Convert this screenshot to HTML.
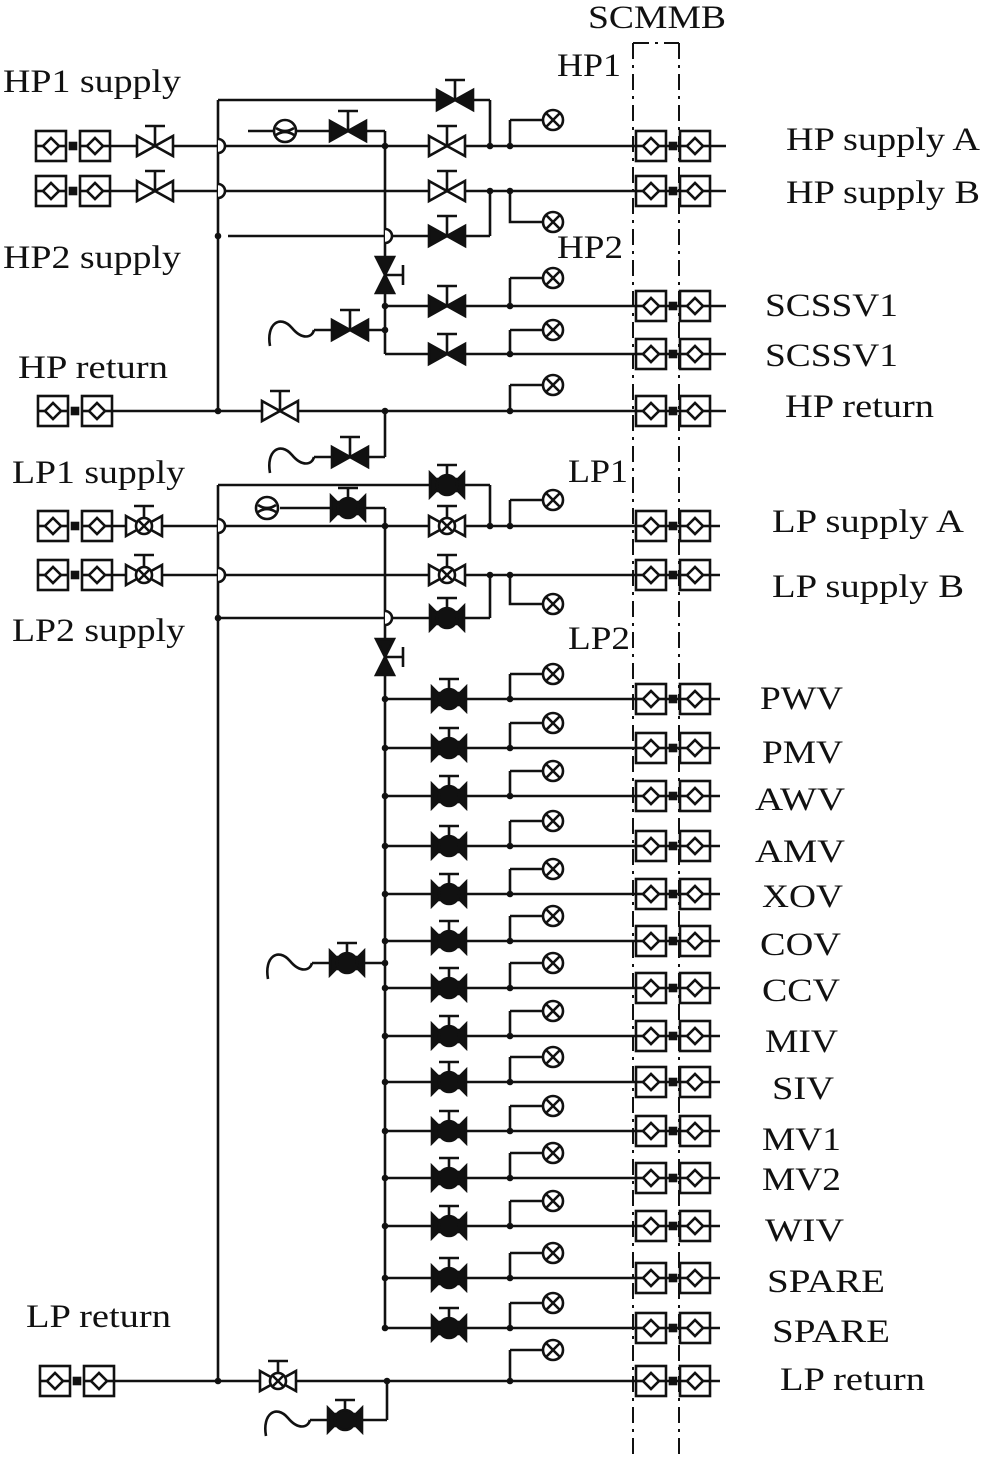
<!DOCTYPE html>
<html><head><meta charset="utf-8"><style>
html,body{margin:0;padding:0;background:#fff;width:986px;height:1460px;overflow:hidden}
svg{display:block}
text{font-family:"Liberation Serif",serif;font-size:33px;fill:#111}
</style></head><body>
<svg id="s" width="986" height="1460" viewBox="0 0 986 1460" xmlns="http://www.w3.org/2000/svg">
<g id="g" stroke="#111" stroke-width="2.6" fill="none"></g>
<g>
<text x="588" y="28" textLength="138" lengthAdjust="spacingAndGlyphs">SCMMB</text>
<text x="557" y="76" textLength="64" lengthAdjust="spacingAndGlyphs">HP1</text>
<text x="557" y="258" textLength="66" lengthAdjust="spacingAndGlyphs">HP2</text>
<text x="568" y="482" textLength="60" lengthAdjust="spacingAndGlyphs">LP1</text>
<text x="568" y="649" textLength="62" lengthAdjust="spacingAndGlyphs">LP2</text>
<text x="3" y="92" textLength="178" lengthAdjust="spacingAndGlyphs">HP1 supply</text>
<text x="3" y="268" textLength="178" lengthAdjust="spacingAndGlyphs">HP2 supply</text>
<text x="18" y="378" textLength="150" lengthAdjust="spacingAndGlyphs">HP return</text>
<text x="12" y="483" textLength="173" lengthAdjust="spacingAndGlyphs">LP1 supply</text>
<text x="12" y="641" textLength="173" lengthAdjust="spacingAndGlyphs">LP2 supply</text>
<text x="26" y="1327" textLength="145" lengthAdjust="spacingAndGlyphs">LP return</text>
<text x="786" y="150" textLength="194" lengthAdjust="spacingAndGlyphs">HP supply A</text>
<text x="786" y="203" textLength="194" lengthAdjust="spacingAndGlyphs">HP supply B</text>
<text x="765" y="316" textLength="133" lengthAdjust="spacingAndGlyphs">SCSSV1</text>
<text x="765" y="366" textLength="133" lengthAdjust="spacingAndGlyphs">SCSSV1</text>
<text x="785" y="417" textLength="149" lengthAdjust="spacingAndGlyphs">HP return</text>
<text x="772" y="532" textLength="192" lengthAdjust="spacingAndGlyphs">LP supply A</text>
<text x="772" y="597" textLength="192" lengthAdjust="spacingAndGlyphs">LP supply B</text>
<text x="760" y="709" textLength="83" lengthAdjust="spacingAndGlyphs">PWV</text>
<text x="762" y="763" textLength="81" lengthAdjust="spacingAndGlyphs">PMV</text>
<text x="755" y="810" textLength="90" lengthAdjust="spacingAndGlyphs">AWV</text>
<text x="755" y="862" textLength="90" lengthAdjust="spacingAndGlyphs">AMV</text>
<text x="762" y="907" textLength="81" lengthAdjust="spacingAndGlyphs">XOV</text>
<text x="760" y="955" textLength="81" lengthAdjust="spacingAndGlyphs">COV</text>
<text x="762" y="1001" textLength="78" lengthAdjust="spacingAndGlyphs">CCV</text>
<text x="765" y="1052" textLength="73" lengthAdjust="spacingAndGlyphs">MIV</text>
<text x="772" y="1099" textLength="62" lengthAdjust="spacingAndGlyphs">SIV</text>
<text x="762" y="1150" textLength="79" lengthAdjust="spacingAndGlyphs">MV1</text>
<text x="762" y="1190" textLength="79" lengthAdjust="spacingAndGlyphs">MV2</text>
<text x="765" y="1241" textLength="79" lengthAdjust="spacingAndGlyphs">WIV</text>
<text x="767" y="1292" textLength="118" lengthAdjust="spacingAndGlyphs">SPARE</text>
<text x="772" y="1342" textLength="118" lengthAdjust="spacingAndGlyphs">SPARE</text>
<text x="780" y="1390" textLength="145" lengthAdjust="spacingAndGlyphs">LP return</text>
</g>
</svg>
<script>
var G=document.getElementById('g'),o='';
function L(a,b,c,d){o+='<line x1="'+a+'" y1="'+b+'" x2="'+c+'" y2="'+d+'"/>';}
function P(d,f){o+='<path d="'+d+'"'+(f?' fill="'+f+'"':'')+'/>';}
function C(x,y,r,f){o+='<circle cx="'+x+'" cy="'+y+'" r="'+r+'"'+(f?' fill="'+f+'"':'')+'/>';}
function dot(x,y){C(x,y,2,'#111');}
function stem(x,y){L(x,y,x,y-20);L(x-10,y-20,x+10,y-20);}
function vOpen(x,y){P('M'+(x-18)+','+(y-10)+'L'+(x+18)+','+(y+10)+'L'+(x+18)+','+(y-10)+'L'+(x-18)+','+(y+10)+'Z','#fff');stem(x,y);}
function vFill(x,y){P('M'+(x-18)+','+(y-10)+'L'+(x+18)+','+(y+10)+'L'+(x+18)+','+(y-10)+'L'+(x-18)+','+(y+10)+'Z','#111');stem(x,y);}
function vX(x,y){vOpen(x,y);C(x,y,8,'#fff');L(x-6,y-6,x+6,y+6);L(x-6,y+6,x+6,y-6);}
function vLP(x,y){stem(x,y);P('M'+(x-17)+','+(y-12)+'L'+(x-11)+','+(y-6)+'L'+(x+11)+','+(y-6)+'L'+(x+17)+','+(y-12)+'L'+(x+17)+','+(y+12)+'L'+(x+11)+','+(y+6)+'L'+(x-11)+','+(y+6)+'L'+(x-17)+','+(y+12)+'Z','#111');C(x,y,10,'#111');}
function vVert(x,y){P('M'+(x-9)+','+(y-18)+'L'+(x+9)+','+(y+18)+'L'+(x-9)+','+(y+18)+'L'+(x+9)+','+(y-18)+'Z','#111');L(x,y,x+18,y);L(x+18,y-10,x+18,y+10);}
function gx(x,y){C(x,y,10,'#fff');L(x-7,y-7,x+7,y+7);L(x-7,y+7,x+7,y-7);}
function gauge(x,y){C(x,y,11,'#fff');P('M'+(x-9)+','+(y-3)+'Q'+x+','+(y+3)+' '+(x+9)+','+(y-3));P('M'+(x-9)+','+(y+4)+'Q'+x+','+(y-2)+' '+(x+9)+','+(y+4));}
function box(x,y){o+='<rect x="'+(x-15)+'" y="'+(y-15)+'" width="30" height="30" fill="#fff"/>';P('M'+(x-8)+','+y+'L'+x+','+(y-8)+'L'+(x+8)+','+y+'L'+x+','+(y+8)+'Z','#fff');L(x-15,y,x-8,y);L(x+8,y,x+15,y);}
function coup(x,y){box(x,y);box(x+44,y);o+='<rect x="'+(x+19)+'" y="'+(y-3)+'" width="6" height="6" fill="#111"/>';}
function hop(x,y){P('M'+x+','+(y-7)+'A7,7 0 0 1 '+x+','+(y+7),'#fff');}
function wave(x,y){P('M'+(x-62)+','+(y+16)+'C'+(x-66)+','+(y-6)+' '+(x-52)+','+(y-16)+' '+(x-40)+','+(y-2)+'C'+(x-30)+','+(y+10)+' '+(x-20)+','+(y+8)+' '+(x-18)+','+y);L(x-18,y,x,y);}
function branchUp(y,gy){L(510,y,510,gy);L(510,gy,543,gy);gx(553,gy);dot(510,y);}
function branchDn(y,gy){P('M510,'+y+'L510,'+gy+'L543,'+gy);gx(553,gy);dot(510,y);}
o+='<g stroke-dasharray="16 6 3 6" stroke-width="2">';L(633,43,633,1455);L(679,43,679,1455);L(633,43,679,43);o+='</g>';
// HP
L(218,100,218,411);L(218,100,490,100);L(490,100,490,146);
L(110,146,726,146);L(110,191,726,191);
L(228,236,490,236);L(490,191,490,236);dot(218,236);
L(248,131,385,131);L(385,131,385,354);L(385,354,726,354);L(385,306,726,306);
L(112,411,726,411);L(385,411,385,457);L(385,457,360,457);L(385,330,360,330);
dot(490,146);dot(490,191);dot(385,146);dot(385,306);dot(385,330);dot(218,411);dot(385,411);
hop(218,146);hop(218,191);hop(385,236);
gauge(285,131);vFill(348,131);vFill(455,100);
vOpen(155,146);vOpen(155,191);vOpen(447,146);vOpen(447,191);vFill(447,236);
vVert(385,275);vFill(447,306);vFill(447,354);vFill(350,330);wave(332,330);
vOpen(280,411);vFill(350,457);wave(332,457);
branchUp(146,120);branchDn(191,222);
branchUp(306,278);branchUp(354,330);branchUp(411,385);
coup(51,146);coup(51,191);coup(53,411);
coup(651,146);coup(651,191);coup(651,306);coup(651,354);coup(651,411);
// LP
L(218,485,218,1381);L(218,485,490,485);L(490,485,490,526);
L(112,526,720,526);L(112,575,720,575);
L(218,618,490,618);L(490,575,490,618);dot(218,618);
L(280,508,385,508);L(385,508,385,1328);
dot(490,526);dot(490,575);dot(385,526);
hop(218,526);hop(218,575);hop(385,618);
gauge(267,508);vLP(348,508);vLP(447,485);
vX(144,526);vX(144,575);vX(447,526);vX(447,575);vLP(447,618);
vVert(385,657);
branchUp(526,500);branchDn(575,604);
coup(53,526);coup(53,575);
coup(651,526);coup(651,575);
[699,748,796,846,894,941,988,1036,1082,1131,1178,1226,1278,1328].forEach(function(y){L(385,y,720,y);dot(385,y);vLP(449,y);branchUp(y,y-25);coup(651,y);});
L(385,963,360,963);dot(385,963);vLP(347,963);wave(330,963);
L(114,1381,720,1381);dot(218,1381);dot(387,1381);L(387,1381,387,1420);L(387,1420,362,1420);
vX(278,1381);vLP(345,1420);wave(328,1420);branchUp(1381,1350);
coup(55,1381);coup(651,1381);
G.innerHTML=o;
</script>
</body></html>
